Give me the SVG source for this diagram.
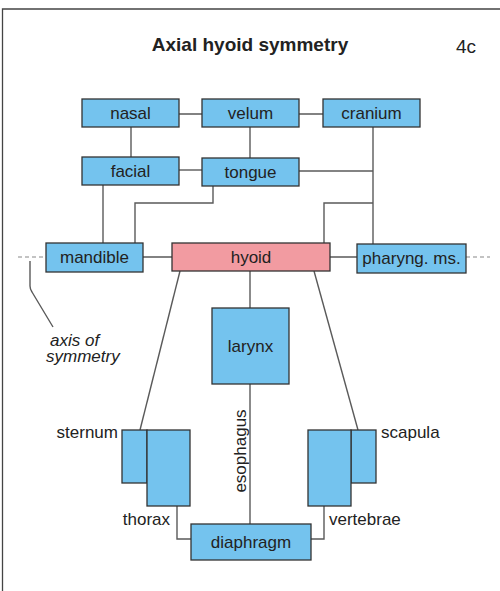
<svg xmlns="http://www.w3.org/2000/svg" width="500" height="591" viewBox="0 0 500 591">
<style>
.box{fill:#74c3ee;stroke:#333;stroke-width:1.3}
.pink{fill:#f29ba1;stroke:#333;stroke-width:1.3}
.lbl{font-family:"Liberation Sans",Arial,sans-serif;font-size:17px;fill:#222;text-anchor:middle}
.side{font-family:"Liberation Sans",Arial,sans-serif;font-size:17px;fill:#222}
.con{fill:none;stroke:#5a5a5a;stroke-width:1.4}
.dash{fill:none;stroke:#888;stroke-width:1.2;stroke-dasharray:4 3}
</style>
<rect x="0" y="0" width="500" height="591" fill="#fff"/>
<path d="M2.5 591 V9 H500" fill="none" stroke="#444" stroke-width="1.3"/>
<text x="250" y="51" font-family="'Liberation Sans',Arial,sans-serif" font-size="19" font-weight="bold" fill="#222" text-anchor="middle">Axial hyoid symmetry</text>
<text x="456" y="53" font-family="'Liberation Sans',Arial,sans-serif" font-size="19" fill="#222">4c</text>

<g id="connectors">
<path class="con" d="M179 114 H202 M299 114 H323"/>
<path class="con" d="M131 127 V157"/>
<path class="con" d="M250 127 V158"/>
<path class="con" d="M179 170 H202"/>
<path class="con" d="M103 185 V243"/>
<path class="con" d="M213 186 V203 H135 V243"/>
<path class="con" d="M373 127 V244"/>
<path class="con" d="M299 171 H373"/>
<path class="con" d="M324 243 V203 H373"/>
<path class="con" d="M143 257 H172 M330 257 H357"/>
<path class="con" d="M250 271 V308"/>
<path class="con" d="M250 384 V524"/>
<path class="con" d="M180 271 L140 430"/>
<path class="con" d="M314 271 L358 430"/>
<path class="con" d="M177 506 V539 H191"/>
<path class="con" d="M324 506 V539 H311"/>
<path class="dash" d="M18 257 H46 M466 257 H490"/>
<path class="con" d="M30 261 V286 Q30 289 32 292 L53 327" stroke-width="1.1"/>
</g>

<g id="nasal"><rect class="box" x="82" y="99" width="97" height="28"/><text class="lbl" x="130.5" y="119">nasal</text></g>
<g id="velum"><rect class="box" x="202" y="99" width="97" height="28"/><text class="lbl" x="250.5" y="119">velum</text></g>
<g id="cranium"><rect class="box" x="323" y="99" width="97" height="28"/><text class="lbl" x="371.5" y="119">cranium</text></g>
<g id="facial"><rect class="box" x="82" y="157" width="97" height="28"/><text class="lbl" x="130.5" y="177">facial</text></g>
<g id="tongue"><rect class="box" x="202" y="158" width="97" height="28"/><text class="lbl" x="250.5" y="178">tongue</text></g>
<g id="mandible"><rect class="box" x="46" y="243" width="97" height="29"/><text class="lbl" x="94.5" y="263">mandible</text></g>
<g id="hyoid"><rect class="pink" x="172" y="243" width="158" height="28"/><text class="lbl" x="251" y="263">hyoid</text></g>
<g id="pharyng"><rect class="box" x="357" y="244" width="109" height="29"/><text class="lbl" x="411.5" y="264">pharyng. ms.</text></g>
<g id="axis"><text class="side" x="50" y="345.5" font-style="italic" font-size="16.5">axis of</text><text class="side" x="46" y="362" font-style="italic" font-size="16.5">symmetry</text></g>
<g id="larynx"><rect class="box" x="212" y="308" width="77" height="76"/><text class="lbl" x="250.5" y="352">larynx</text></g>
<g id="sternum"><rect class="box" x="122" y="430" width="25" height="53"/><text class="side" x="118" y="438" text-anchor="end">sternum</text></g>
<g id="thorax"><rect class="box" x="147" y="430" width="43" height="76"/><text class="side" x="170" y="525" text-anchor="end">thorax</text></g>
<g id="scapula"><rect class="box" x="351" y="430" width="25" height="53"/><text class="side" x="381" y="438">scapula</text></g>
<g id="vertebrae"><rect class="box" x="308" y="430" width="43" height="76"/><text class="side" x="329" y="525">vertebrae</text></g>
<g id="esophagus"><text class="lbl" transform="translate(246 451) rotate(-90)" x="0" y="0">esophagus</text></g>
<g id="diaphragm"><rect class="box" x="191" y="524" width="120" height="36"/><text class="lbl" x="251" y="548">diaphragm</text></g>
</svg>
